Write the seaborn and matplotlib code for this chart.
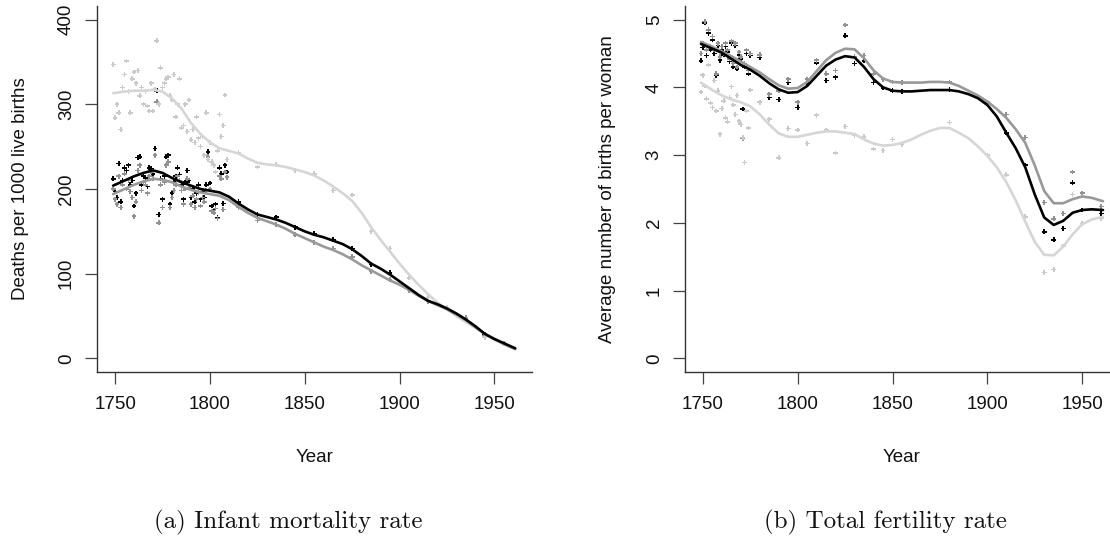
import numpy as np
import pandas as pd
import matplotlib
matplotlib.use("Agg")
import matplotlib.pyplot as plt
import seaborn as sns

sns.set_style("ticks")
plt.rcParams['font.family'] = ['Liberation Sans', 'DejaVu Sans']

# ---------------- Data: infant mortality (deaths per 1000 live births) ----------------
imr_point_years = list(range(1749, 1810)) + list(range(1815, 1960, 10))
imr_black_pts = [212, 197, 190, 230, 185, 210, 225, 222, 228, 205, 210, 180, 195, 237, 238, 205,
                 215, 213, 203, 225, 224, 218, 248, 316, 170, 212, 188, 215, 238, 240, 182, 195,
                 208, 215, 225, 217, 205, 188, 208, 222, 210, 190, 200, 185, 195, 205, 188, 197,
                 190, 205, 244, 207, 180, 175, 182, 166, 225, 218, 183, 228, 220,
                 185, 170, 167, 155, 147, 140, 130, 111, 101, 82, 68, 60, 47, 28, 18]
imr_gray_pts = [200, 188, 182, 215, 178, 205, 218, 200, 210, 197, 190, 168, 185, 222, 228, 198,
                208, 205, 195, 215, 220, 212, 240, 303, 160, 205, 178, 208, 228, 232, 178, 190,
                198, 205, 215, 210, 198, 182, 200, 212, 202, 182, 192, 178, 188, 196, 180, 190,
                185, 198, 238, 200, 174, 172, 177, 165, 215, 212, 176, 220, 214,
                178, 163, 158, 146, 137, 130, 120, 103, 93, 80, 67, 60, 48, 27, 18]
imr_light_pts = [347, 284, 300, 290, 270, 320, 335, 351, 315, 290, 330, 338, 325, 340, 310, 320,
                 300, 315, 298, 292, 325, 292, 318, 375, 300, 343, 320, 325, 330, 332, 310, 305,
                 335, 285, 300, 330, 272, 275, 300, 268, 305, 258, 270, 255, 285, 260, 250, 262,
                 240, 290, 235, 255, 232, 228, 220, 245, 288, 262, 275, 311, 235,
                 243, 226, 229, 222, 218, 198, 193, 150, 130, 95, 72, 60, 45, 25, 17]

smooth_years = [1749] + list(range(1755, 1960, 5)) + [1961]
imr_black_fit = [204, 210, 215, 219, 222, 219, 213, 208, 204, 200, 198, 196, 191, 183, 176, 170,
                 167, 164, 160, 155, 150, 146, 143, 139, 135, 129, 121, 112, 106, 99, 91, 83,
                 75, 68, 64, 59, 53, 46, 38, 29, 23, 18, 12]
imr_gray_fit = [194, 200, 205, 209, 212, 211, 208, 203, 199, 196, 194, 192, 187, 179, 172, 166,
                162, 158, 153, 147, 142, 137, 132, 128, 123, 117, 110, 104, 98, 92, 87, 81,
                74, 68, 63, 58, 52, 45, 37, 29, 23, 17, 11]
imr_light_fit = [313, 315, 316, 316, 317, 315, 307, 295, 278, 265, 255, 248, 245, 242, 236, 231,
                 229, 228, 226, 223, 220, 216, 210, 203, 195, 186, 172, 155, 140, 126, 112, 99,
                 87, 76, 66, 58, 50, 43, 36, 29, 22, 17, 11]

# ---------------- Data: total fertility rate (births per woman) ----------------
tfr_point_years = (list(range(1749, 1776)) + list(range(1780, 1860, 5)) +
                   [1880, 1900, 1910, 1920, 1930, 1935, 1940, 1945, 1950, 1960])
tfr_black_pts = [4.39, 4.59, 4.95, 4.47, 4.80, 4.55, 4.70, 4.50, 4.18, 4.62, 4.40, 4.55, 4.48, 4.60,
                 4.52, 4.38, 4.65, 4.30, 4.62, 4.27, 4.48, 4.42, 3.68, 4.30, 4.50, 4.20, 4.47,
                 4.44, 3.85, 3.82, 4.07, 3.70, 4.07, 4.36, 4.10, 4.15, 4.76, 4.35, 4.39, 4.07,
                 3.99, 3.95, 3.94,
                 3.97, 3.76, 3.33, 2.85, 1.87, 1.75, 1.92, 2.59, 2.19, 2.14]
tfr_gray_pts = [4.50, 4.65, 4.97, 4.55, 4.85, 4.60, 4.75, 4.55, 4.20, 4.65, 4.45, 4.60, 4.50, 4.65,
                4.55, 4.42, 4.68, 4.35, 4.65, 4.30, 4.52, 4.45, 3.25, 4.35, 4.55, 4.25, 4.50,
                4.48, 3.90, 3.95, 4.12, 3.78, 4.12, 4.40, 4.20, 4.25, 4.92, 4.45, 4.47, 4.20,
                4.12, 4.08, 4.07,
                4.08, 3.78, 3.60, 3.26, 2.30, 2.06, 2.14, 2.75, 2.44, 2.24]
tfr_light_pts = [3.93, 4.18, 4.02, 3.83, 4.33, 3.77, 3.70, 4.10, 3.65, 3.95, 3.31, 3.69, 3.80, 3.55,
                 3.49, 3.85, 4.01, 3.74, 3.60, 3.88, 3.50, 3.45, 3.26, 2.89, 3.65, 3.40, 3.96,
                 3.78, 3.53, 2.96, 3.39, 3.37, 3.17, 3.59, 3.37, 3.03, 3.42, 3.29, 3.27, 3.09,
                 3.07, 3.23, 3.16,
                 3.48, 3.00, 2.71, 2.09, 1.27, 1.31, 1.66, 2.42, 1.99, 2.07]

tfr_black_fit = [4.64, 4.57, 4.51, 4.42, 4.33, 4.26, 4.17, 4.06, 3.97, 3.92, 3.93, 4.02, 4.17, 4.32,
                 4.41, 4.46, 4.44, 4.30, 4.12, 4.00, 3.95, 3.94, 3.94, 3.95, 3.96, 3.96, 3.96,
                 3.94, 3.90, 3.84, 3.74, 3.57, 3.33, 3.10, 2.82, 2.42, 2.08, 1.97, 2.03, 2.15,
                 2.19, 2.20, 2.19]
tfr_gray_fit = [4.67, 4.60, 4.53, 4.46, 4.38, 4.30, 4.22, 4.12, 4.03, 3.98, 3.99, 4.08, 4.24, 4.40,
                4.51, 4.57, 4.56, 4.43, 4.25, 4.13, 4.08, 4.07, 4.07, 4.07, 4.08, 4.08, 4.07,
                4.02, 3.95, 3.88, 3.79, 3.68, 3.55, 3.38, 3.18, 2.85, 2.47, 2.29, 2.29, 2.35,
                2.39, 2.37, 2.32]
tfr_light_fit = [4.07, 3.96, 3.88, 3.82, 3.78, 3.72, 3.60, 3.45, 3.32, 3.27, 3.27, 3.30, 3.33, 3.35,
                 3.35, 3.33, 3.31, 3.23, 3.17, 3.14, 3.15, 3.18, 3.23, 3.30, 3.36, 3.40, 3.40,
                 3.33, 3.25, 3.13, 2.99, 2.82, 2.60, 2.33, 2.02, 1.72, 1.53, 1.52, 1.65, 1.83,
                 1.98, 2.05, 2.09]

x_ticks = [1750, 1800, 1850, 1900, 1950]
imr_ticks = [0, 100, 200, 300, 400]
tfr_ticks = [0, 1, 2, 3, 4, 5]

series_order = ["black", "gray", "light"]
palette = {"black": "#000000", "gray": "#999999", "light": "#d6d6d6"}
point_palette = {"black": "#000000", "gray": "#929292", "light": "#cacaca"}


def long_frame(years, columns):
    parts = []
    for name, vals in zip(series_order, columns):
        parts.append(pd.DataFrame({"year": years, "value": vals, "series": name}))
    return pd.concat(parts, ignore_index=True)


imr_pts = long_frame(imr_point_years, [imr_black_pts, imr_gray_pts, imr_light_pts])
imr_fit = long_frame(smooth_years, [imr_black_fit, imr_gray_fit, imr_light_fit])
tfr_pts = long_frame(tfr_point_years, [tfr_black_pts, tfr_gray_pts, tfr_light_pts])
tfr_fit = long_frame(smooth_years, [tfr_black_fit, tfr_gray_fit, tfr_light_fit])

W, H = 1110, 538
fig = plt.figure(figsize=(W / 100, H / 100), dpi=100)
fig.patch.set_facecolor("white")

ax1 = fig.add_axes([96.7 / W, 166 / H, 435 / W, 366 / H])
ax2 = fig.add_axes([684.5 / W, 166 / H, 435 / W, 366 / H])

line_order = ["light", "gray", "black"]

for ax, pts, fit, yt, ylim, ylab in [
    (ax1, imr_pts, imr_fit, imr_ticks, (-16, 416), "Deaths per 1000 live births"),
    (ax2, tfr_pts, tfr_fit, tfr_ticks, (-0.2, 5.2), "Average number of births per woman"),
]:
    sns.scatterplot(data=pts, x="year", y="value", hue="series", hue_order=line_order,
                    palette=point_palette, marker="P", s=12, linewidth=0, legend=False, ax=ax,
                    zorder=2)
    sns.lineplot(data=fit, x="year", y="value", hue="series", hue_order=line_order,
                 palette=palette, linewidth=1.9, legend=False, ax=ax, zorder=3)
    ax.set_xlim(1740.3, 1969.7)
    ax.set_ylim(*ylim)
    ax.set_xticks(x_ticks)
    ax.set_yticks(yt)
    ax.set_xticklabels([str(v) for v in x_ticks])
    ax.set_yticklabels([str(v) for v in yt])
    for side in ["top", "right"]:
        ax.spines[side].set_visible(False)
    for side in ["left", "bottom"]:
        ax.spines[side].set_linewidth(1.0)
        ax.spines[side].set_color("#333333")
    ax.tick_params(axis="both", direction="out", length=8.6, width=0.9, color="#444444",
                   labelsize=13.5, labelcolor="#111111")
    ax.tick_params(axis="x", pad=9)
    ax.tick_params(axis="y", pad=7, labelrotation=90)
    for lab in ax.get_yticklabels():
        lab.set_va("center")
    ax.set_xlabel("Year", fontsize=13.5, color="#111111")
    ax.set_ylabel(ylab, fontsize=13.5, color="#111111")
    ax.xaxis.set_label_coords(0.5, (372 - 457) / 366)
    ax.xaxis.label.set_va("center")
    ax.yaxis.set_label_coords(-76.5 / 435, 0.5)
    ax.yaxis.label.set_va("center")
    ax.grid(False)
    ax.set_facecolor("white")

fig.text(288 / W, 1 - 522 / H, "(a) Infant mortality rate", ha="center", va="center",
         fontsize=18, family="cmr10", color="#111111")
fig.text(885 / W, 1 - 522 / H, "(b) Total fertility rate", ha="center", va="center",
         fontsize=18, family="cmr10", color="#111111")

fig.savefig("out.png", dpi=100, facecolor="white")
